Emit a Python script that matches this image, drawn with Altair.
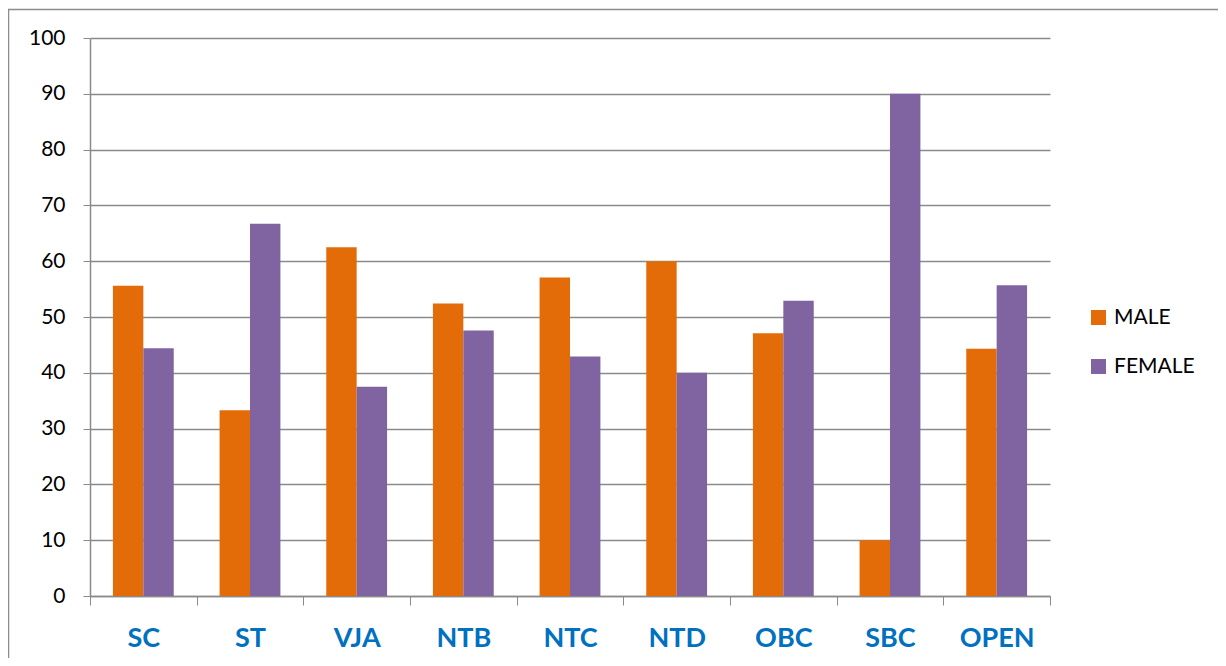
import altair as alt
import pandas as pd

categories = ["SC", "ST", "VJA", "NTB", "NTC", "NTD", "OBC", "SBC", "OPEN"]
male = [55.6, 33.3, 62.5, 52.4, 57.1, 60.0, 47.1, 10.0, 44.3]
female = [44.4, 66.7, 37.5, 47.6, 42.9, 40.0, 52.9, 90.0, 55.7]
series = ["MALE", "FEMALE"]
colors = ["#E36C09", "#8064A2"]
y_ticks = list(range(0, 101, 10))

rows = []
for c, m, f in zip(categories, male, female):
    rows.append({"cat": c, "series": "MALE", "value": m})
    rows.append({"cat": c, "series": "FEMALE", "value": f})
df = pd.DataFrame(rows)

W, H = 960, 558
GRAY = "#8a8a8a"

bars = alt.Chart(df).mark_bar().encode(
    x=alt.X("cat:N", sort=categories, title=None,
            scale=alt.Scale(paddingInner=0, paddingOuter=0),
            axis=alt.Axis(labelAngle=0, labelFont="Lato", labelFontSize=27,
                          labelFontWeight="bold", labelColor="#0070C0",
                          tickBand="extent", tickSize=9, tickColor=GRAY,
                          domainColor=GRAY, domainWidth=1.5, labelPadding=20,
                          grid=False)),
    xOffset=alt.XOffset("series:N", sort=series,
                        scale=alt.Scale(paddingInner=0, paddingOuter=0.754)),
    y=alt.Y("value:Q", title=None,
            scale=alt.Scale(domain=[0, 100], nice=False),
            axis=alt.Axis(values=y_ticks, labelFont="Lato", labelFontSize=21,
                          labelColor="#000000", tickSize=7, tickColor=GRAY,
                          domainColor=GRAY, domainWidth=1.5, labelPadding=18,
                          gridColor=GRAY, gridWidth=1.5)),
    color=alt.Color("series:N", sort=series,
                    scale=alt.Scale(domain=series, range=colors),
                    legend=alt.Legend(title=None, orient="none", legendX=998, legendY=269,
                                      symbolType="square", symbolSize=225,
                                      symbolStrokeWidth=0, labelFont="Lato",
                                      labelFontSize=21, labelColor="#000000",
                                      labelOffset=5, rowPadding=27)),
)

border = alt.Chart(pd.DataFrame({"a": [0]})).mark_rect(
    fill=None, stroke="#8c8c8c", strokeWidth=1.5
).encode(
    x=alt.value(-81.5), x2=alt.value(1300),
    y=alt.value(-28.5), y2=alt.value(800),
)

chart = alt.layer(border, bars).properties(
    width=W, height=H,
    autosize=alt.AutoSizeParams(type="none"),
    padding={"left": 82, "top": 30, "right": 168, "bottom": 62},
).configure_view(stroke=None)

chart.save("out.html", embed_options={"renderer": "svg", "actions": False})
